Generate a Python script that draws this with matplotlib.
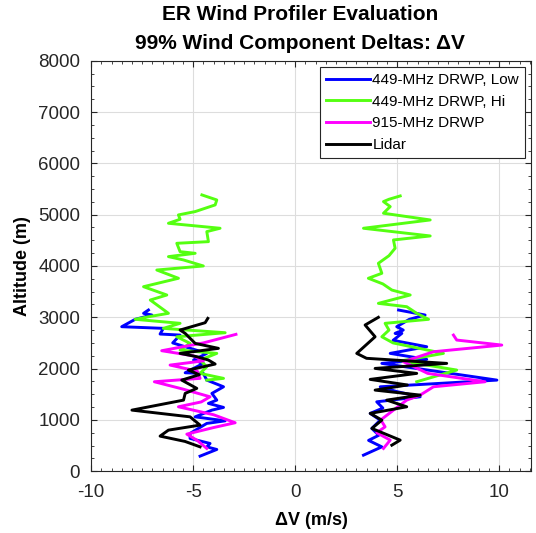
import matplotlib
matplotlib.use("Agg")
import matplotlib.pyplot as plt
from matplotlib.ticker import MultipleLocator

plt.rcParams['font.family'] = ['Liberation Sans', 'DejaVu Sans']
plt.rcParams['axes.unicode_minus'] = False

# ---- Data (left branch = negative deltas, right branch = positive deltas) ----
# 449-MHz DRWP, Low
low_left_x = [-7.19, -7.43, -7.02, -7.84, -8.5, -6.46, -6.62, -5.64, -6.0, -4.33, -4.98, -4.5, -5.39, -4.5,
              -4.33, -3.51, -4.08, -3.84, -4.25, -3.51, -4.08, -4.9, -3.43, -4.33, -5.15, -5.15, -4.17,
              -4.33, -3.84, -4.66]
low_left_y = [3141, 3077, 3044, 2960, 2816, 2784, 2673, 2653, 2500, 2296, 2166, 2101, 1918, 1906,
              1775, 1645, 1516, 1385, 1321, 1243, 1190, 1059, 981, 931, 736, 638, 540,
              474, 423, 293]
low_right_x = [5.07, 6.37, 5.6, 4.98, 5.3, 4.9, 5.23, 4.8, 6.45, 4.66, 6.45, 4.25, 9.89, 4.17, 5.0,
               6.13, 4.0, 4.3, 3.68, 4.17, 3.76, 4.1, 3.6, 4.25, 3.35]
low_right_y = [3141, 3044, 2960, 2816, 2750, 2686, 2686, 2550, 2426, 2296, 2179, 2101, 1775, 1645, 1550,
               1450, 1352, 1230, 1126, 995, 833, 700, 600, 474, 312]

# 449-MHz DRWP, Hi
hi_left_x = [-4.57, -3.84, -3.92, -4.9, -5.72, -5.64, -6.21, -3.68, -4.33, -4.25, -5.8, -5.64, -4.9,
             -6.21, -5.47, -4.5, -6.78, -5.72, -7.43, -6.29, -7.1, -6.21, -7.19, -7.84, -5.64, -6.46,
             -3.43, -5.8, -5.15, -5.64, -3.84, -4.66, -4.33, -4.66, -3.51, -4.33]
hi_left_y = [5385, 5287, 5190, 5060, 4995, 4910, 4832, 4735, 4670, 4474, 4442, 4279, 4247,
             4182, 4117, 4000, 3921, 3760, 3596, 3434, 3336, 3077, 3010, 2960, 2882, 2784,
             2699, 2620, 2491, 2361, 2296, 2166, 2035, 1906, 1809, 1775]
hi_right_x = [5.15, 4.6, 4.33, 4.66, 4.33, 6.62, 3.35, 6.62, 4.82, 4.9, 4.6, 4.08, 4.25, 3.59, 4.3,
              4.74, 5.64, 4.08, 5.47, 5.96, 6.54, 4.41, 4.6, 4.25, 4.8, 7.27, 5.2, 7.92, 5.96]
hi_right_y = [5365, 5300, 5255, 5157, 5028, 4897, 4735, 4585, 4507, 4345, 4200, 4052, 3857, 3760, 3650,
              3531, 3434, 3271, 3206, 3077, 2960, 2882, 2750, 2620, 2500, 2296, 2150, 1971, 1743]

# 915-MHz DRWP
mhz915_left_x = [-2.9, -4.5, -6.54, -5.0, -4.5, -6.13, -4.8, -4.66, -6.9, -5.5, -4.17, -4.6, -5.72,
                 -4.0, -2.94, -4.0, -5.31, -4.8, -4.33]
mhz915_left_y = [2667, 2500, 2348, 2250, 2150, 2068, 1950, 1809, 1743, 1600, 1450, 1350, 1255,
                 1100, 944, 850, 722, 600, 443]
mhz915_right_x = [7.76, 7.92, 10.13, 6.78, 5.31, 6.5, 9.31, 6.78, 6.13, 5.47, 4.82, 4.2, 4.41, 4.0,
                  4.66, 4.33]
mhz915_right_y = [2653, 2556, 2458, 2328, 2133, 1906, 1743, 1645, 1483, 1385, 1190, 1000, 864, 750,
                  605, 443]

# Lidar
lidar_left_x = [-4.28, -4.41, -5.64, -5.39, -4.9, -3.76, -5.64, -4.8, -4.25, -3.92, -5.23, -4.7,
                -5.56, -4.82, -5.39, -5.47, -8.0, -5.15, -4.66, -6.21, -6.62, -5.4, -4.66]
lidar_left_y = [2979, 2894, 2751, 2686, 2491, 2394, 2296, 2230, 2166, 2088, 1971, 1880,
                1775, 1614, 1516, 1385, 1190, 1059, 898, 800, 683, 580, 474]
lidar_right_x = [4.08, 3.43, 3.92, 3.02, 3.5, 7.43, 3.92, 5.96, 3.68, 5.5, 3.92, 6.13, 4.49, 5.47,
                 3.68, 4.25, 3.76, 5.15, 4.74]
lidar_right_y = [2999, 2849, 2620, 2296, 2200, 2101, 2003, 1906, 1789, 1680, 1580, 1483, 1385, 1255,
                 1126, 995, 833, 605, 507]

labels = ['449-MHz DRWP, Low', '449-MHz DRWP, Hi', '915-MHz DRWP', 'Lidar']
colors = ['#0000FF', '#55FF11', '#FF00FF', '#000000']

fig = plt.figure(figsize=(5.36, 5.33), dpi=100)
ax = fig.add_axes([0.170, 0.116, 0.821, 0.770])

series = [
    (low_left_x, low_left_y, low_right_x, low_right_y),
    (hi_left_x, hi_left_y, hi_right_x, hi_right_y),
    (mhz915_left_x, mhz915_left_y, mhz915_right_x, mhz915_right_y),
    (lidar_left_x, lidar_left_y, lidar_right_x, lidar_right_y),
]
for (lx, ly, rx, ry), lab, c in zip(series, labels, colors):
    ax.plot(lx, ly, color=c, lw=2.1, label=lab)
    ax.plot(rx, ry, color=c, lw=2.1)

ax.set_xlim(-10, 11.57)
ax.set_ylim(0, 8000)
ax.set_xticks([-10, -5, 0, 5, 10])
ax.set_yticks(range(0, 8001, 1000))
ax.xaxis.set_minor_locator(MultipleLocator(0.5))
ax.yaxis.set_minor_locator(MultipleLocator(250))
ax.grid(True, which='major', color='#dddddd', lw=0.8)
ax.set_axisbelow(True)
ax.tick_params(which='both', direction='in', top=True, right=True, labelsize=13.5, colors='#262626')
ax.tick_params(which='major', length=4)
ax.tick_params(which='minor', length=2.5)
ax.tick_params(axis='x', which='major', pad=9)
ax.tick_params(axis='y', which='major', pad=8)
for s in ax.spines.values():
    s.set_color('#262626')
    s.set_linewidth(0.8)

ax.set_xlabel('ΔV (m/s)', fontsize=13, fontweight='bold', labelpad=8)
ax.set_ylabel('Altitude (m)', fontsize=13, fontweight='bold', labelpad=5)

fig.text(300 / 536, 1 - 15 / 533, 'ER Wind Profiler Evaluation', ha='center', va='center',
         fontsize=15, fontweight='bold')
fig.text(300 / 536, 1 - 43 / 533, '99% Wind Component Deltas: ΔV', ha='center', va='center',
         fontsize=15, fontweight='bold')

leg = ax.legend(loc='upper right', fontsize=11, fancybox=False, framealpha=1,
                edgecolor='#262626', handlelength=2.9, handletextpad=0.15, borderpad=0.4,
                labelspacing=0.5, borderaxespad=0.4)
leg.get_frame().set_linewidth(0.8)

fig.savefig('out.png', dpi=100)
